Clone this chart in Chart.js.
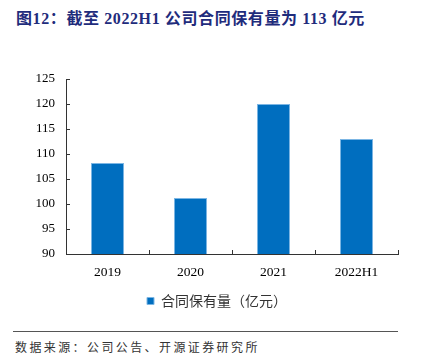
<!DOCTYPE html>
<html>
<head>
<meta charset="utf-8">
<script src="https://cdn.jsdelivr.net/npm/chart.js@4/dist/chart.umd.min.js"></script>
<style>
  html, body { margin: 0; padding: 0; background: #fff; }
  body { width: 432px; height: 362px; position: relative; overflow: hidden; }
  #title {
    position: absolute; left: 16px; top: 5px; white-space: nowrap;
    font: bold 16px "Liberation Serif", "Noto Sans CJK SC", serif;
    color: #1f2c7c; letter-spacing: 0.6px;
  }
  #wrap { position: absolute; left: 0; top: 0; width: 432px; height: 322px; }
  #rule { position: absolute; left: 13px; top: 331px; width: 385px; height: 0; border-top: 1px solid #555; }
  #source {
    position: absolute; left: 15px; top: 338px; white-space: nowrap;
    font: 12px "Noto Sans CJK SC", sans-serif; color: #333; letter-spacing: 2.4px;
  }
</style>
</head>
<body>
<div id="title">图12：截至 2022H1 公司合同保有量为 113 亿元</div>
<div id="wrap"><canvas id="chart"></canvas></div>
<div id="rule"></div>
<div id="source">数据来源：公司公告、开源证券研究所</div>
<script>
const categories = ['2019', '2020', '2021', '2022H1'];
const contractValues = [108.2, 101.2, 120.0, 113.0];
const seriesLabel = '合同保有量（亿元）';
const yTicks = [90, 95, 100, 105, 110, 115, 120, 125];

// short inward tick marks on both axes
const innerTicks = {
    id: 'innerTicks',
    afterDraw(chart) {
        const ctx = chart.ctx;
        const x = chart.scales.x, y = chart.scales.y;
        const area = chart.chartArea;
        ctx.save();
        ctx.strokeStyle = '#333';
        ctx.lineWidth = 1;
        ctx.beginPath();
        yTicks.forEach(v => {
            const py = Math.round(y.getPixelForValue(v)) + 0.5;
            ctx.moveTo(area.left, py);
            ctx.lineTo(area.left + 4, py);
        });
        for (let i = 0; i < categories.length; i++) {
            const px = Math.round(x.getPixelForValue(i + 0.5)) + 0.5;
            ctx.moveTo(px, area.bottom);
            ctx.lineTo(px, area.bottom - 4);
        }
        ctx.stroke();
        ctx.restore();
    }
};

new Chart(document.getElementById('chart').getContext('2d'), {
    type: 'bar',
    data: {
        labels: categories,
        datasets: [{
            label: seriesLabel,
            data: contractValues,
            backgroundColor: '#006ebf',
            borderColor: '#7cb6e4',
            borderWidth: 1,
            categoryPercentage: 1.0,
            barPercentage: 0.4
        }]
    },
    options: {
        responsive: true,
        maintainAspectRatio: false,
        animation: false,
        // left padding keeps the bottom legend centred like the original
        layout: { padding: { left: 36, right: 34, top: 79, bottom: 4 } },
        scales: {
            x: {
                grid: { display: false, drawTicks: false },
                border: { color: '#333', width: 1 },
                ticks: { color: '#000', padding: 10, font: { family: "'Liberation Serif', serif", size: 13.5 } },
                afterFit: s => { s.height = 30; }
            },
            y: {
                min: 90, max: 125,
                grid: { display: false, drawTicks: false },
                border: { color: '#333', width: 1 },
                ticks: { stepSize: 5, color: '#000', padding: 11, font: { family: "'Liberation Serif', serif", size: 13 } },
                afterFit: s => { s.width = 30; }
            }
        },
        plugins: {
            legend: {
                position: 'bottom',
                labels: {
                    boxWidth: 7, boxHeight: 7, padding: 10, color: '#333',
                    font: { family: "'Noto Sans CJK SC', sans-serif", size: 14 }
                }
            },
            tooltip: { enabled: false }
        }
    },
    plugins: [innerTicks]
});
</script>
</body>
</html>
